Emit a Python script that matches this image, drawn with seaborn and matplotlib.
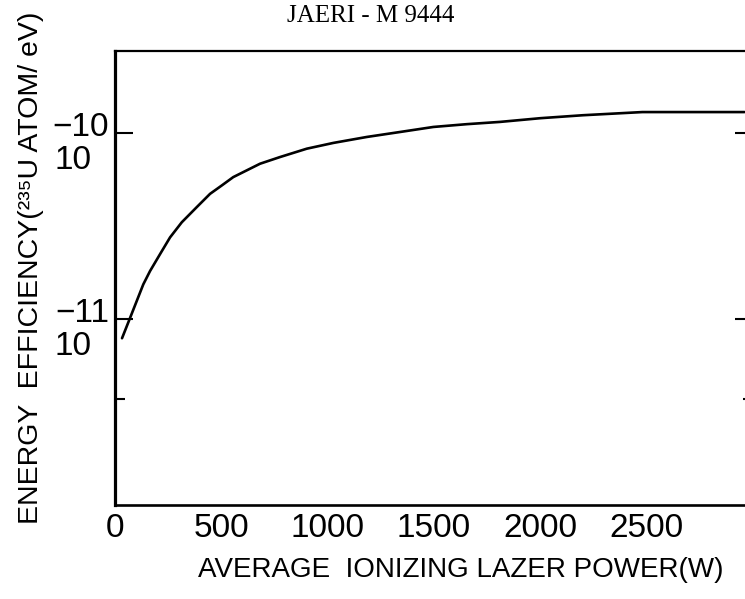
import matplotlib
matplotlib.use("Agg")
import matplotlib.pyplot as plt
import matplotlib.ticker as mticker
import seaborn as sns
import pandas as pd

# ---- data ----
power_w = [33, 71, 102, 133, 165, 212, 259, 314, 384, 447, 502, 556, 619, 682, 776,
           902, 1027, 1184, 1341, 1497, 1654, 1811, 2000, 2200, 2480, 2960]
efficiency = [7.89e-12, 1.016e-11, 1.250e-11, 1.538e-11, 1.816e-11, 2.239e-11,
              2.754e-11, 3.319e-11, 4.000e-11, 4.721e-11, 5.236e-11, 5.808e-11,
              6.310e-11, 6.855e-11, 7.447e-11, 8.260e-11, 8.872e-11, 9.550e-11,
              1.016e-10, 1.081e-10, 1.119e-10, 1.151e-10, 1.205e-10, 1.250e-10,
              1.300e-10, 1.300e-10]

x_ticks = [0, 500, 1000, 1500, 2000, 2500]
x_tick_labels = ["0", "500", "1000", "1500", "2000", "2500"]
y_major = [1e-11, 1e-10]
y_exponents = ["\u221211", "\u221210"]
y_minor = [3.7e-12]
x_limits = (0, 3000)
y_limits = (1e-12, 2.77e-10)

title_text = "JAERI - M 9444"
x_label = "AVERAGE  IONIZING LAZER POWER(W)"
y_label = "ENERGY  EFFICIENCY(\u00b2\u00b3\u2075U ATOM/ eV)"

sns.set_style("white")
plt.rcParams["font.family"] = ["Liberation Sans", "DejaVu Sans"]
plt.rcParams["text.color"] = "black"
plt.rcParams["xtick.color"] = "black"
plt.rcParams["ytick.color"] = "black"

df = pd.DataFrame({"power": power_w, "eff": efficiency})

W, H = 745, 599
fig = plt.figure(figsize=(W / 100, H / 100), dpi=100)
ax = fig.add_axes([115 / W, (H - 505) / H, (753 - 115) / W, (505 - 51) / H])

sns.lineplot(data=df, x="power", y="eff", ax=ax, color="black", linewidth=1.9)
for ln in ax.get_lines():
    ln.set_solid_joinstyle("round")
    ln.set_solid_capstyle("round")

ax.set_yscale("log")
ax.set_xlim(*x_limits)
ax.set_ylim(*y_limits)

ax.yaxis.set_major_locator(mticker.FixedLocator(y_major))
ax.yaxis.set_minor_locator(mticker.FixedLocator(y_minor))
ax.yaxis.set_major_formatter(mticker.NullFormatter())
ax.yaxis.set_minor_formatter(mticker.NullFormatter())

ax.set_xticks(x_ticks)
ax.set_xticklabels(x_tick_labels, fontsize=24, color="black")
ax.tick_params(axis="x", direction="in", length=4, width=1.3, pad=6, colors="black")
ax.tick_params(axis="y", which="major", direction="in", length=13, width=1.5,
               left=True, right=True, colors="black")
ax.tick_params(axis="y", which="minor", direction="in", length=7, width=1.5,
               left=True, right=True, colors="black")

for side, lw in [("left", 2.3), ("bottom", 1.9), ("top", 1.6), ("right", 1.6)]:
    ax.spines[side].set_visible(True)
    ax.spines[side].set_color("black")
    ax.spines[side].set_linewidth(lw)

ax.set_xlabel("")
ax.set_ylabel("")

# y tick labels drawn as "10" with a large exponent, as in the reference
for yv, ex in zip(y_major, y_exponents):
    ax.annotate("10", xy=(0, yv), xycoords=("axes fraction", "data"),
                xytext=(-42, -27), textcoords="offset pixels",
                ha="center", va="center", fontsize=24, color="black")
    ax.annotate(ex, xy=(0, yv), xycoords=("axes fraction", "data"),
                xytext=(-6, 6), textcoords="offset pixels",
                ha="right", va="center", fontsize=24, color="black")

fig.text(461 / W, 1 - 570 / H, x_label, ha="center", va="center", fontsize=20,
         color="black")
fig.text(31 / W, 1 - 268 / H, y_label, ha="center", va="center", rotation=90,
         fontsize=20.5, color="black")
fig.text(287 / W, 1 - 16 / H, title_text, ha="left", va="center", fontsize=18,
         color="black", family=["Liberation Serif", "DejaVu Serif"])

fig.savefig("out.png", dpi=100)
